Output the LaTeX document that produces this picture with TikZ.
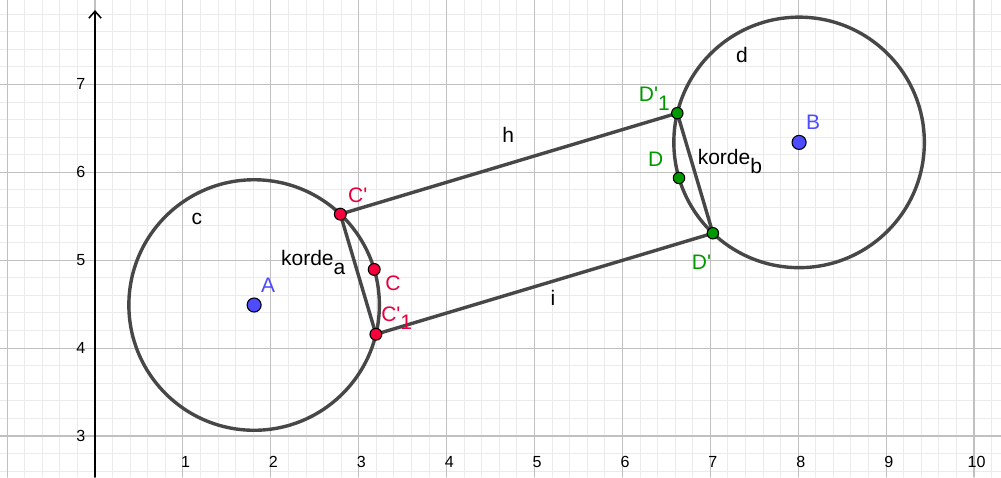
\documentclass[tikz,border=0pt]{standalone}
\usepackage{fontspec}
\setmainfont{Liberation Sans}
\usetikzlibrary{arrows.meta,calc}
\definecolor{GridMinor}{HTML}{EBEBEB}
\definecolor{GridMajor}{HTML}{C0C0C0}
\definecolor{Curve}{HTML}{474747}
\definecolor{PointRed}{HTML}{F5003D}
\definecolor{LabelRed}{HTML}{E8003D}
\definecolor{PointGreen}{HTML}{009900}
\definecolor{LabelGreen}{HTML}{009900}
\definecolor{PointBlue}{HTML}{4D4DFF}
\tikzset{
  minor grid/.style={draw=GridMinor,line width=0.3pt,step=0.2},
  major grid/.style={draw=GridMajor,line width=0.35pt,step=1},
  axis line/.style={draw=black,line width=0.5pt,-{Straight Barb[length=0.8mm,width=1.4mm]}},
  tick label/.style={text=black,inner sep=0pt,font=\fontsize{5.2}{5.2}\selectfont},
  curve/.style={draw=Curve,line width=1.1pt},
  red point/.style={circle,draw=black,fill=PointRed,line width=0.35pt,inner sep=0pt,minimum size=0.135cm},
  green point/.style={circle,draw=black,fill=PointGreen,line width=0.35pt,inner sep=0pt,minimum size=0.13cm},
  blue point/.style={circle,draw=black,fill=PointBlue,line width=0.35pt,inner sep=0pt,minimum size=0.16cm},
  obj label/.style={inner sep=0pt,font=\fontsize{6.8}{6.8}\selectfont}
}
\newcommand{\lowsub}[1]{\raisebox{-0.42em}{#1}}
\newcommand{\pr}{\textquotesingle}

\begin{document}
\begin{tikzpicture}[x=1cm,y=1cm,line cap=round,line join=round]
  \useasboundingbox[fill=white] (-1.081,2.533) rectangle (10.307,7.960);

  % grid and axis
  \draw[minor grid] (-1.081,2.533) grid (10.307,7.960);
  \draw[major grid] (-1.081,2.533) grid (10.307,7.960);
  \draw[axis line] (0,2.533) -- (0,7.846);
  \foreach \x in {1,...,10} {
    \node[tick label] (xl\x) at (\x+0.03,2.70) {\x};
  }
  \foreach \y in {3,...,7} {
    \node[tick label] (yl\y) at (-0.16,\y) {\y};
  }

  % circles c and d
  \coordinate (A) at (1.81,4.49);
  \coordinate (B) at (8.01,6.34);
  \draw[curve] (A) circle[radius=1.425];
  \draw[curve] (B) circle[radius=1.425];

  % points on the circles
  \coordinate (Cp) at ($(A)+(46.5:1.425)$);
  \coordinate (C) at ($(A)+(16.5:1.425)$);
  \coordinate (C1p) at ($(A)+(-13.5:1.425)$);
  \coordinate (D1p) at ($(B)+(166.5:1.425)$);
  \coordinate (D) at ($(B)+(196.5:1.425)$);
  \coordinate (Dp) at ($(B)+(226.5:1.425)$);

  % segments h, i and the chords
  \draw[curve] (Cp) -- (D1p);
  \draw[curve] (C1p) -- (Dp);
  \draw[curve] (Cp) -- (C1p);
  \draw[curve] (D1p) -- (Dp);

  \node[blue point] (ptA) at (A) {};
  \node[blue point] (ptB) at (B) {};
  \node[red point] (ptCp) at (Cp) {};
  \node[red point] (ptC) at (C) {};
  \node[red point] (ptC1p) at (C1p) {};
  \node[green point] (ptD1p) at (D1p) {};
  \node[green point] (ptD) at (D) {};
  \node[green point] (ptDp) at (Dp) {};

  % labels
  \node[obj label,text=PointBlue] (lA) at (1.97,4.72) {A};
  \node[obj label,text=PointBlue] (lB) at (8.17,6.57) {B};
  \node[obj label,text=LabelRed] (lCp) at (2.99,5.74) {C\pr};
  \node[obj label,text=LabelRed] (lC) at (3.39,4.74) {C};
  \node[obj label,text=LabelRed,anchor=west] (lC1p) at (3.25,4.34) {C\pr\lowsub{1}};
  \node[obj label,text=LabelGreen,anchor=west] (lD1p) at (6.18,6.84) {D\pr\lowsub{1}};
  \node[obj label,text=LabelGreen] (lD) at (6.38,6.15) {D};
  \node[obj label,text=LabelGreen] (lDp) at (6.90,4.98) {D\pr};
  \node[obj label,anchor=west] (lka) at (2.11,4.97) {korde\lowsub{a}};
  \node[obj label,anchor=west] (lkb) at (6.85,6.12) {korde\lowsub{b}};
  \node[obj label] (lc) at (1.16,5.47) {c};
  \node[obj label] (ld) at (7.36,7.33) {d};
  \node[obj label] (lh) at (4.70,6.42) {h};
  \node[obj label] (li) at (5.21,4.57) {i};
\end{tikzpicture}
\end{document}
